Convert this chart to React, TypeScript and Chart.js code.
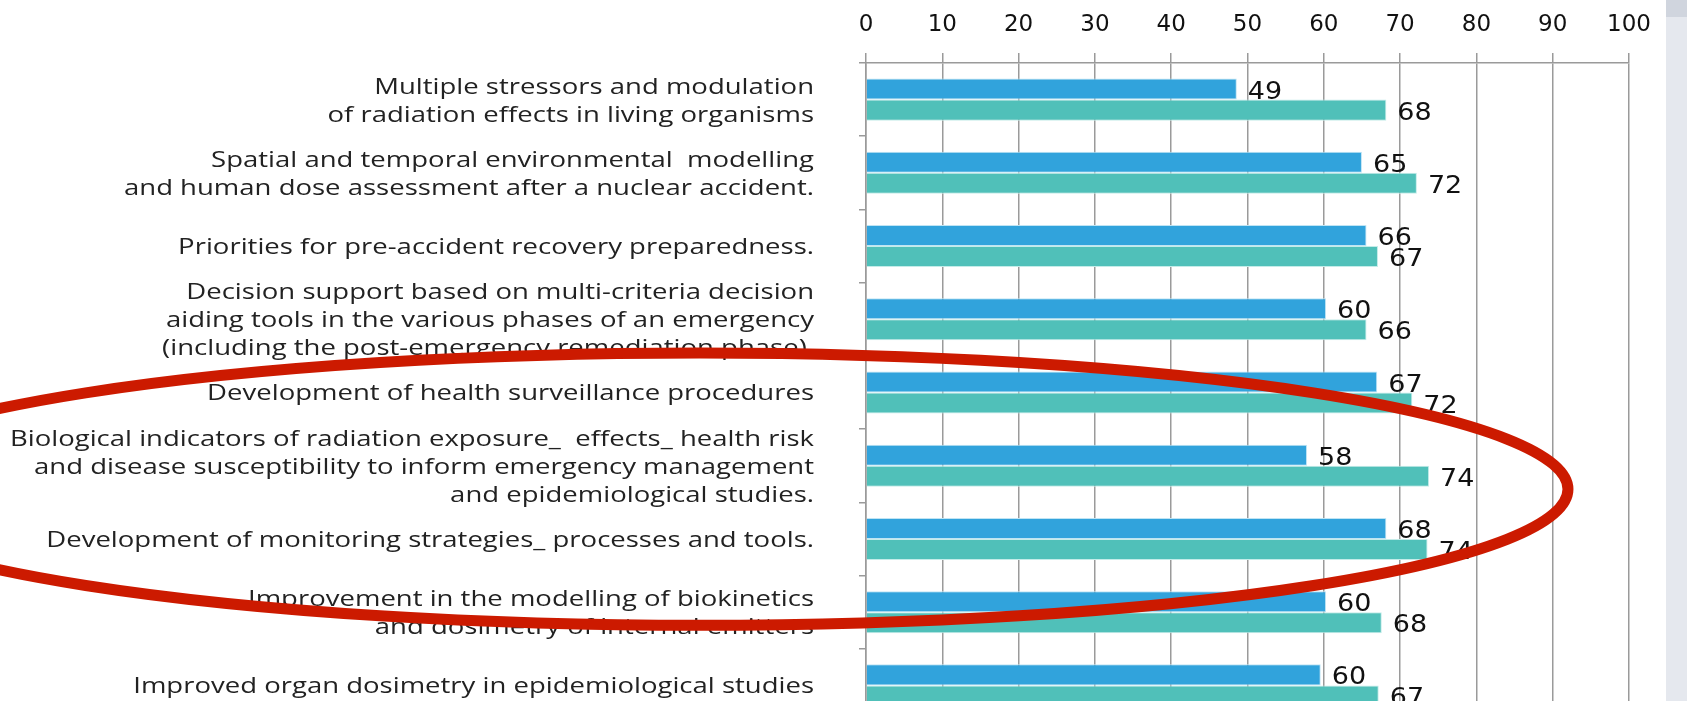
import React, { useEffect, useRef } from "react";
import { Chart, registerables } from "chart.js";

Chart.register(...registerables);

// ---- data ----
const categories: (string | string[])[] = [
  ["Multiple stressors and modulation", "of radiation effects in living organisms"],
  ["Spatial and temporal environmental  modelling", "and human dose assessment after a nuclear accident."],
  "Priorities for pre-accident recovery preparedness.",
  [
    "Decision support based on multi-criteria decision",
    "aiding tools in the various phases of an emergency",
    "(including the post-emergency remediation phase).",
  ],
  "Development of health surveillance procedures",
  [
    "Biological indicators of radiation exposure_  effects_ health risk",
    "and disease susceptibility to inform emergency management",
    "and epidemiological studies.",
  ],
  "Development of monitoring strategies_ processes and tools.",
  ["Improvement in the modelling of biokinetics", "and dosimetry of internal emitters"],
  "Improved organ dosimetry in epidemiological studies",
];

const seriesBlue = [48.6, 65.0, 65.6, 60.3, 67.0, 57.8, 68.2, 60.3, 59.6];
const seriesTeal = [68.2, 72.2, 67.1, 65.6, 71.6, 73.8, 73.6, 67.6, 67.2];

const xMin = 0;
const xMax = 100;
const xStep = 10;

// highlight ellipse (annotation), in axis units: x value units / category index units
const highlightCenterX = -21.8;
const highlightRadiusX = 113.8;
const highlightCenterY = 5.32;
const highlightRadiusY = 1.86;

const valueLabels = {
  id: "valueLabels",
  afterDatasetsDraw(chart: any) {
    const ctx = chart.ctx;
    chart.data.datasets.forEach((ds: any, di: number) => {
      const meta = chart.getDatasetMeta(di);
      meta.data.forEach((bar: any, i: number) => {
        const v = ds.data[i];
        const p = bar.getProps(["x", "y", "height"], true);
        ctx.save();
        ctx.translate(p.x + 11, p.y + p.height / 2 - 1);
        ctx.scale(1.08, 1);
        ctx.font = '25px "DejaVu Sans"';
        ctx.fillStyle = "#111";
        ctx.textAlign = "left";
        ctx.textBaseline = "alphabetic";
        ctx.fillText(String(Math.round(v)), 0, 0);
        ctx.restore();
      });
    });
  },
};

const categoryLabels = {
  id: "categoryLabels",
  afterDraw(chart: any) {
    const ys = chart.scales.y;
    const ctx = chart.ctx;
    const right = chart.chartArea.left - 52;
    const lineH = 28;
    const labels = chart.data.labels as (string | string[])[];
    labels.forEach((lab, i) => {
      const lines = Array.isArray(lab) ? lab : [lab];
      const yc = ys.getPixelForValue(i) + 2;
      lines.forEach((line, k) => {
        const dy = (k - (lines.length - 1) / 2) * lineH;
        ctx.save();
        ctx.translate(right, yc + dy);
        ctx.scale(1.31, 1);
        ctx.font = '21px "Open Sans"';
        ctx.fillStyle = "#222";
        ctx.textAlign = "right";
        ctx.textBaseline = "middle";
        ctx.fillText(line, 0, 0);
        ctx.restore();
      });
    });
  },
};

const highlight = {
  id: "highlight",
  afterDraw(chart: any) {
    const xs = chart.scales.x;
    const ys = chart.scales.y;
    const cx = xs.getPixelForValue(highlightCenterX);
    const rx = xs.getPixelForValue(highlightCenterX + highlightRadiusX) - cx;
    const cy = ys.getPixelForValue(highlightCenterY);
    const ry = ys.getPixelForValue(highlightCenterY + highlightRadiusY) - cy;
    const ctx = chart.ctx;
    ctx.save();
    ctx.beginPath();
    ctx.ellipse(cx, cy, Math.abs(rx), Math.abs(ry), 0, 0, Math.PI * 2);
    ctx.strokeStyle = "#cc1a00";
    ctx.lineWidth = 11;
    ctx.stroke();
    ctx.restore();
  },
};

export default function App() {
  const ref = useRef<HTMLCanvasElement | null>(null);

  useEffect(() => {
    if (!ref.current) return;
    const chart = new Chart(ref.current, {
      type: "bar",
      data: {
        labels: categories,
        datasets: [
          {
            label: "A",
            data: seriesBlue,
            backgroundColor: "#31a3dc",
            borderColor: "#bfe4f4",
            borderWidth: 1,
            categoryPercentage: 0.574,
            barPercentage: 1,
          },
          {
            label: "B",
            data: seriesTeal,
            backgroundColor: "#50c0b9",
            borderColor: "#c4ece9",
            borderWidth: 1,
            categoryPercentage: 0.574,
            barPercentage: 1,
          },
        ],
      },
      options: {
        indexAxis: "y",
        responsive: false,
        animation: false,
        layout: { padding: { left: 0, right: 58, top: 0, bottom: 18 } },
        plugins: {
          legend: { display: false },
          tooltip: { enabled: false },
        },
        scales: {
          x: {
            position: "top",
            min: xMin,
            max: xMax,
            ticks: {
              stepSize: xStep,
              color: "#111",
              font: { family: "DejaVu Sans", size: 23 },
              padding: 14,
            },
            grid: { color: "#9a9a9a", lineWidth: 1.5, tickLength: 10 },
            border: { color: "#9a9a9a", width: 1.5 },
            afterFit: (s: any) => {
              s.height = 63;
            },
          },
          y: {
            ticks: { display: false, autoSkip: false },
            grid: { drawOnChartArea: false, tickLength: 7, color: "#9a9a9a", lineWidth: 1.5 },
            border: { color: "#9a9a9a", width: 1.5 },
            afterFit: (s: any) => {
              s.width = 866;
              s.paddingTop = 0;
              s.paddingBottom = 0;
            },
          },
        },
      } as any,
      plugins: [valueLabels, categoryLabels, highlight],
    });
    return () => chart.destroy();
  }, []);

  return (
    <div
      style={{
        position: "fixed",
        left: 0,
        top: 0,
        width: 1687,
        height: 701,
        overflow: "hidden",
        background: "#fff",
      }}
    >
      <canvas ref={ref} width={1687} height={740} style={{ display: "block" }} />
      <div
        style={{
          position: "absolute",
          left: 1666,
          top: 0,
          width: 21,
          height: 701,
          background: "#e5e8ee",
        }}
      >
        <div style={{ height: 17, background: "#d0d5de" }} />
      </div>
    </div>
  );
}
